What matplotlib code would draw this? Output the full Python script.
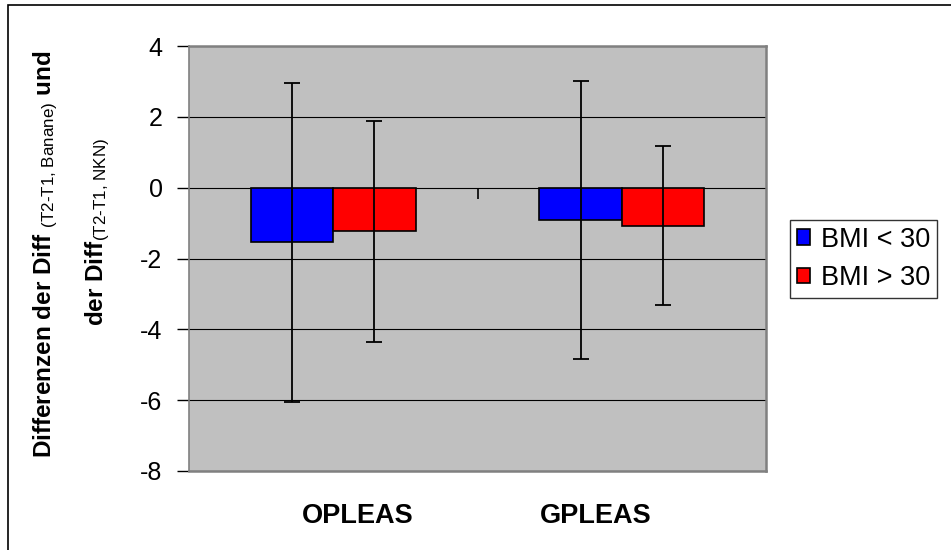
import matplotlib.pyplot as plt
import matplotlib.patches as mpatches
import numpy as np

plt.rcParams['font.family'] = ['Liberation Sans', 'DejaVu Sans']
plt.rcParams['mathtext.fontset'] = 'custom'
plt.rcParams['mathtext.rm'] = 'Liberation Sans'
plt.rcParams['mathtext.it'] = 'Liberation Sans:italic'
plt.rcParams['mathtext.bf'] = 'Liberation Sans:bold'

# Daten
categories = ['OPLEAS', 'GPLEAS']
series_names = ['BMI < 30', 'BMI > 30']
mean_bmi_lt30 = [-1.54, -0.91]
sd_bmi_lt30 = [4.50, 3.93]
mean_bmi_gt30 = [-1.23, -1.07]
sd_bmi_gt30 = [3.12, 2.24]
y_ticks = [-8, -6, -4, -2, 0, 2, 4]

fig = plt.figure(figsize=(9.51, 5.5), dpi=100)
ax = fig.add_axes([189 / 951, 1 - 471 / 550, 577 / 951, 425 / 550])

x = np.arange(len(categories))
w = 1 / 3.5  # Excel gap width 150%

ax.set_facecolor('#C0C0C0')
for y in y_ticks:
    ax.axhline(y, color='black', lw=0.8, zorder=1)

err_kw = dict(ecolor='black', elinewidth=1.3, capsize=6, capthick=1.3)
ax.bar(x - w / 2, mean_bmi_lt30, w, yerr=sd_bmi_lt30, color='#0000FF',
       edgecolor='black', lw=1.2, label=series_names[0], zorder=3, error_kw=err_kw)
ax.bar(x + w / 2, mean_bmi_gt30, w, yerr=sd_bmi_gt30, color='#FF0000',
       edgecolor='black', lw=1.2, label=series_names[1], zorder=3, error_kw=err_kw)

# Teilstrich zwischen den Kategorien auf der Nulllinie
boundaries = (x[:-1] + x[1:]) / 2
ax.plot(boundaries, np.zeros_like(boundaries), ls='none', marker=3, ms=8,
        mew=1.2, color='black', zorder=2)

ax.set_xlim(-0.5, len(categories) - 0.5)
ax.set_ylim(min(y_ticks), max(y_ticks))
ax.set_yticks(y_ticks)
ax.set_yticklabels([str(t) for t in y_ticks], fontsize=18)
ax.tick_params(axis='y', direction='out', length=9, width=1, color='black', pad=10)
# Beschriftungen etwas zur Mitte hin versetzt (wie im Original)
ax.set_xticks(x + np.array([0.085, -0.09]))
ax.set_xticklabels(categories, fontsize=19.5, fontweight='bold')
ax.tick_params(axis='x', length=0, pad=23)

for s in ax.spines.values():
    s.set_color('#808080')
    s.set_linewidth(1.8)
ax.spines['left'].set_linewidth(1.2)

# Achsenbeschriftung (zweizeilig)
fig.text(51 / 951, 1 - 254 / 550,
         r'Differenzen der Diff $_{\text{(T2-T1, Banane)}}$ und',
         rotation=90, rotation_mode='anchor', ha='center', va='baseline',
         fontsize=17.5, fontweight='bold')
fig.text(103 / 951, 1 - 232 / 550,
         r'der Diff$_{\text{(T2-T1, NKN)}}$',
         rotation=90, rotation_mode='anchor', ha='center', va='baseline',
         fontsize=17.5, fontweight='bold')

leg = fig.legend(loc='upper left', bbox_to_anchor=(790 / 951, 1 - 220 / 550),
                 fontsize=19.5, frameon=True, fancybox=False, handlelength=0.5,
                 handleheight=0.5, handletextpad=0.4, borderaxespad=0,
                 borderpad=0.25, labelspacing=0.45)
leg.get_frame().set_edgecolor('black')
leg.get_frame().set_linewidth(1.0)

# Rahmen um das gesamte Diagramm
fig.patches.append(mpatches.Rectangle((8 / 951, -0.1), 2, 1.1 - 5 / 550,
                                      transform=fig.transFigure, fill=False,
                                      edgecolor='black', lw=1.2))

fig.savefig('out.png', dpi=100)
